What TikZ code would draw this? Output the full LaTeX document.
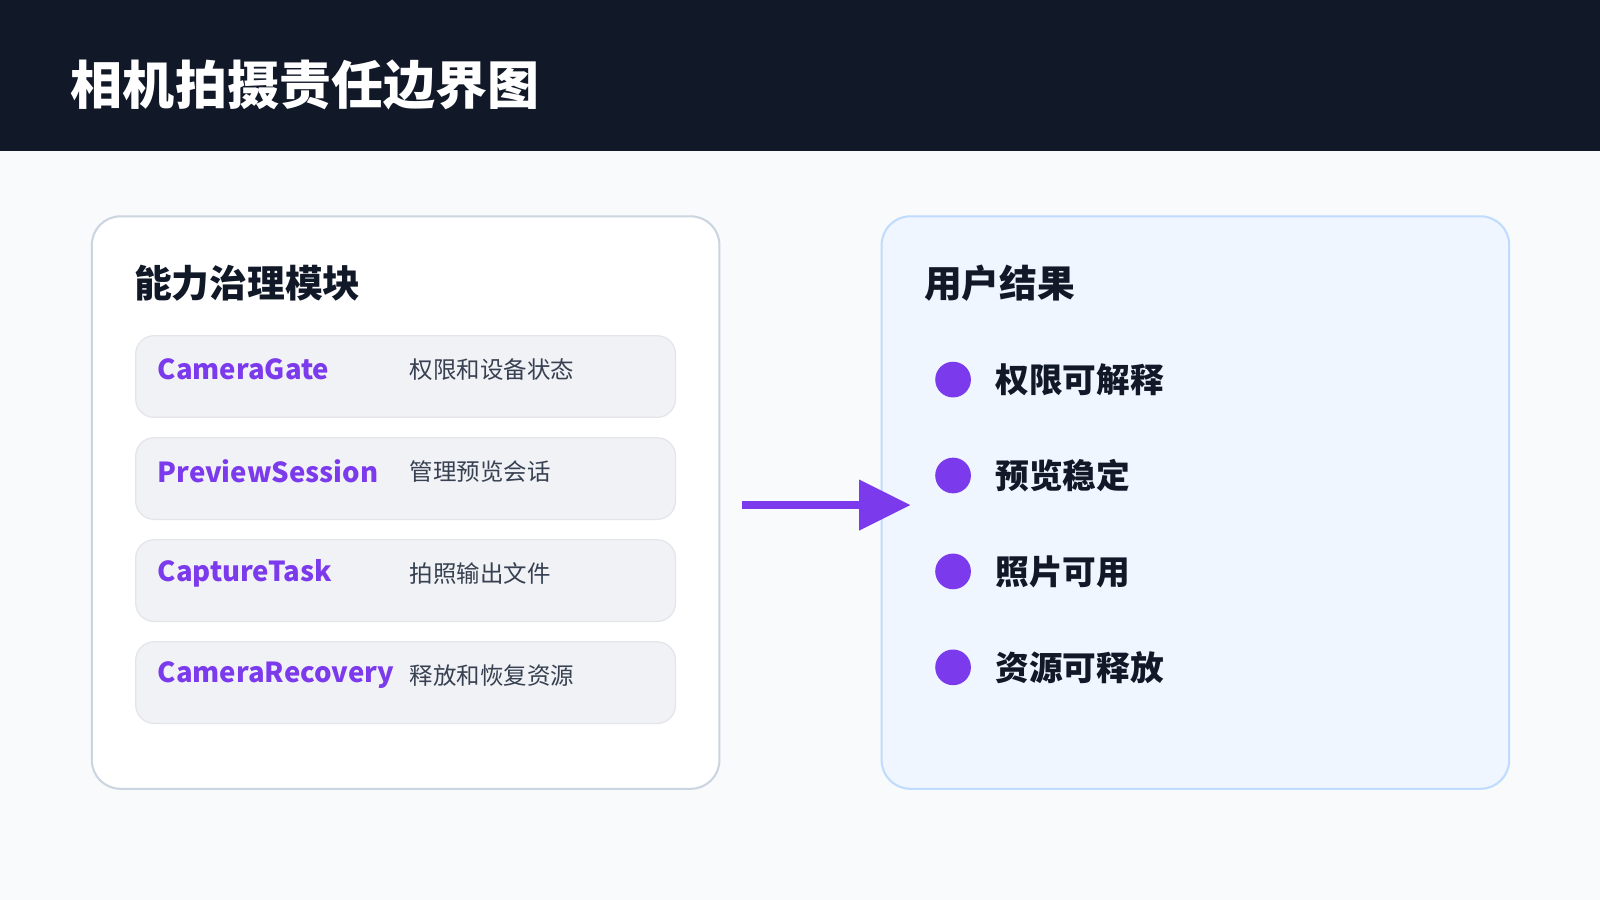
\documentclass[tikz,border=0pt]{standalone}
\usepackage{fontspec}
\setmainfont{Noto Sans CJK SC}
\definecolor{hdr}{HTML}{111827}
\definecolor{bg}{HTML}{F8FAFC}
\definecolor{pur}{HTML}{7C3AED}
\definecolor{txt}{HTML}{374151}
\definecolor{rowf}{HTML}{F1F2F6}
\definecolor{rowb}{HTML}{E3E5EA}
\definecolor{lb}{HTML}{CBD5E1}
\definecolor{rf}{HTML}{EFF6FF}
\definecolor{rb}{HTML}{BFDBFE}
\begin{document}
\begin{tikzpicture}[x=1pt,y=-1pt,
  card/.style={rounded corners=28pt,line width=2pt},
  row/.style={draw=rowb,fill=rowf,line width=1.2pt,rounded corners=18pt},
  key/.style={anchor=west,text=pur,font=\fontsize{27}{30}\selectfont\bfseries},
  desc/.style={anchor=west,text=txt,font=\fontsize{23}{26}\selectfont},
  head/.style={anchor=west,text=hdr,font=\fontsize{37}{40}\selectfont\bfseries},
  dot/.style={circle,fill=pur,minimum size=35pt,inner sep=0pt},
  item/.style={anchor=west,text=hdr,font=\fontsize{33}{36}\selectfont\bfseries}]
\useasboundingbox (0,0) rectangle (1568,882);
\fill[bg] (0,0) rectangle (1568,882);
\fill[hdr] (0,0) rectangle (1568,148);
\node[anchor=west,text=white,font=\fontsize{51}{54}\selectfont\bfseries] (title) at (66,83) {相机拍摄责任边界图};
\draw[card,draw=lb,fill=white] (90,212) rectangle (705,773);
\node[head] (lh) at (128,278) {能力治理模块};
\foreach \y/\k/\d [count=\i] in {329/CameraGate/权限和设备状态,429/PreviewSession/管理预览会话,529/CaptureTask/拍照输出文件,629/CameraRecovery/释放和恢复资源}{
  \draw[row] (133,\y) rectangle (662,\y+80);
  \node[key] (k\i) at (151,\y+33) {\k};
  \node[desc] (d\i) at (398,\y+33) {\d};
}
\draw[card,draw=rb,fill=rf] (864,212) rectangle (1479,773);
\node[head] (rh) at (902,278) {用户结果};
\foreach \y/\t [count=\i] in {372/权限可解释,466/预览稳定,560/照片可用,654/资源可释放}{
  \node[dot] (b\i) at (934,\y) {};
  \node[item] (t\i) at (972,\y) {\t};
}
\coordinate (a1) at (727,495);
\coordinate (a2) at (842,495);
\coordinate (a3) at (892,495);
\draw[pur,line width=8pt] (a1) -- (a2);
\fill[pur] (842,470) -- (a3) -- (842,520) -- cycle;
\end{tikzpicture}
\end{document}
